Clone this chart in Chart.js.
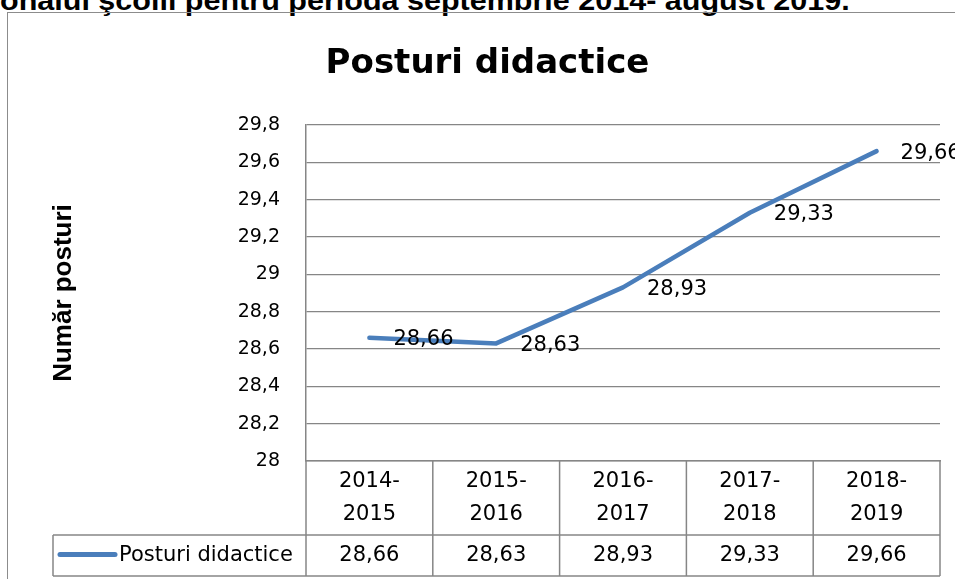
<!DOCTYPE html>
<html><head><meta charset="utf-8">
<script src="https://cdn.jsdelivr.net/npm/chart.js@4"></script>
<style>
html,body{margin:0;padding:0;background:#fff;width:955px;height:579px;overflow:hidden;}
#top{position:absolute;left:0;top:-13px;font:bold 28px/28px "Liberation Sans",Arial,sans-serif;white-space:nowrap;transform:scaleX(1.09);transform-origin:0 0;color:#000;}
#frame{position:absolute;left:7px;top:12px;width:1000px;height:700px;border:1.5px solid #8c8c8c;box-sizing:border-box;}
#wrap{position:absolute;left:0;top:0;width:955px;height:579px;}
</style></head><body>
<div id="top">onalul şcolii pentru perioda septembrie 2014- august 2019.</div>
<div id="frame"></div>
<div id="wrap"><canvas id="c" width="955" height="579"></canvas></div>
<script>
const categories = ['2014-2015', '2015-2016', '2016-2017', '2017-2018', '2018-2019'];
const seriesName = 'Posturi didactice';
const values = [28.66, 28.63, 28.93, 29.33, 29.66];
const yTickValues = [28, 28.2, 28.4, 28.6, 28.8, 29, 29.2, 29.4, 29.6, 29.8];
const chartTitle = 'Posturi didactice';
const yAxisTitle = 'Număr posturi';

const fmt = v => String(+Number(v).toFixed(2)).replace('.', ',');
const headerLabels = categories.map(c => { const p = c.split('-'); return [p[0] + '-', p[1]]; });

const LINE_COLOR = '#4a7ebb';
const GRID = '#868686';
const FONT = 'DejaVu Sans';

const dataLabels = {
  id: 'dataLabels',
  afterDatasetsDraw(chart) {
    const ctx = chart.ctx;
    const meta = chart.getDatasetMeta(0);
    ctx.save();
    ctx.font = '21px "' + FONT + '"';
    ctx.fillStyle = '#000';
    ctx.textAlign = 'left';
    ctx.textBaseline = 'middle';
    meta.data.forEach((pt, i) => ctx.fillText(fmt(values[i]), pt.x + 24, pt.y + 2));
    ctx.restore();
  }
};

const dataTable = {
  id: 'dataTable',
  afterDraw(chart) {
    const ctx = chart.ctx;
    const xs = chart.scales.x;
    const ca = chart.chartArea;
    const n = categories.length;
    const half = (xs.getPixelForValue(1) - xs.getPixelForValue(0)) / 2;
    const edges = [];
    for (let i = 0; i < n; i++) edges.push(xs.getPixelForValue(i) - half);
    edges.push(xs.getPixelForValue(n - 1) + half);
    const top = ca.bottom, mid = xs.bottom, bot = mid + 41;
    const legendLeft = 53;
    ctx.save();
    ctx.strokeStyle = GRID;
    ctx.lineWidth = 1.5;
    ctx.beginPath();
    ctx.moveTo(legendLeft, mid); ctx.lineTo(edges[n], mid);
    ctx.moveTo(legendLeft, bot); ctx.lineTo(edges[n], bot);
    edges.forEach(e => { ctx.moveTo(e, top); ctx.lineTo(e, bot); });
    ctx.moveTo(legendLeft, mid); ctx.lineTo(legendLeft, bot);
    ctx.stroke();
    // values row
    ctx.font = '21px "' + FONT + '"';
    ctx.fillStyle = '#000';
    ctx.textAlign = 'center';
    ctx.textBaseline = 'middle';
    const vy = (mid + bot) / 2;
    values.forEach((v, i) => ctx.fillText(fmt(v), xs.getPixelForValue(i), vy));
    // legend cell
    ctx.strokeStyle = LINE_COLOR;
    ctx.lineWidth = 5;
    ctx.lineCap = 'round';
    ctx.beginPath();
    ctx.moveTo(legendLeft + 7, vy - 1); ctx.lineTo(legendLeft + 62, vy - 1);
    ctx.stroke();
    ctx.textAlign = 'left';
    ctx.fillText(seriesName, legendLeft + 66, vy);
    ctx.restore();
  }
};

new Chart(document.getElementById('c'), {
  type: 'line',
  data: {
    labels: headerLabels,
    datasets: [{
      label: seriesName,
      data: values,
      borderColor: LINE_COLOR,
      borderWidth: 4.5,
      pointRadius: 0,
      pointHoverRadius: 0,
      tension: 0,
      borderCapStyle: 'round',
      borderJoinStyle: 'round',
      clip: false
    }]
  },
  options: {
    responsive: false,
    animation: false,
    devicePixelRatio: 1,
    layout: { padding: { left: 35, right: 15, top: 0, bottom: 44 } },
    plugins: {
      legend: { display: false },
      tooltip: { enabled: false },
      title: {
        display: true,
        text: chartTitle,
        color: '#000',
        font: { family: FONT, weight: 'bold', size: 34, lineHeight: 1.2 },
        padding: { top: 44, bottom: 40.2 }
      }
    },
    scales: {
      x: {
        type: 'category',
        offset: true,
        grid: { display: false, drawTicks: false },
        border: { display: true, color: GRID, width: 1.5 },
        ticks: {
          color: '#000',
          font: { family: FONT, size: 21, lineHeight: 1.595 },
          padding: 3.5,
          maxRotation: 0,
          minRotation: 0,
          autoSkip: false
        },
        afterFit: s => { s.height = 74; }
      },
      y: {
        min: 28,
        max: 29.8,
        afterBuildTicks: s => { s.ticks = yTickValues.map(v => ({ value: v })); },
        grid: { color: GRID, lineWidth: 1.3, drawTicks: false },
        border: { display: true, color: GRID, width: 1.5 },
        ticks: {
          color: '#000',
          font: { family: FONT, size: 19 },
          padding: 26,
          callback: v => fmt(v)
        },
        title: {
          display: true,
          text: yAxisTitle,
          color: '#000',
          font: { family: 'Liberation Sans', weight: 'bold', size: 26, lineHeight: 1.2 },
          padding: { top: 13, bottom: 0 }
        },
        afterFit: s => { s.width = 271; }
      }
    }
  },
  plugins: [dataLabels, dataTable]
});
</script>
</body></html>
